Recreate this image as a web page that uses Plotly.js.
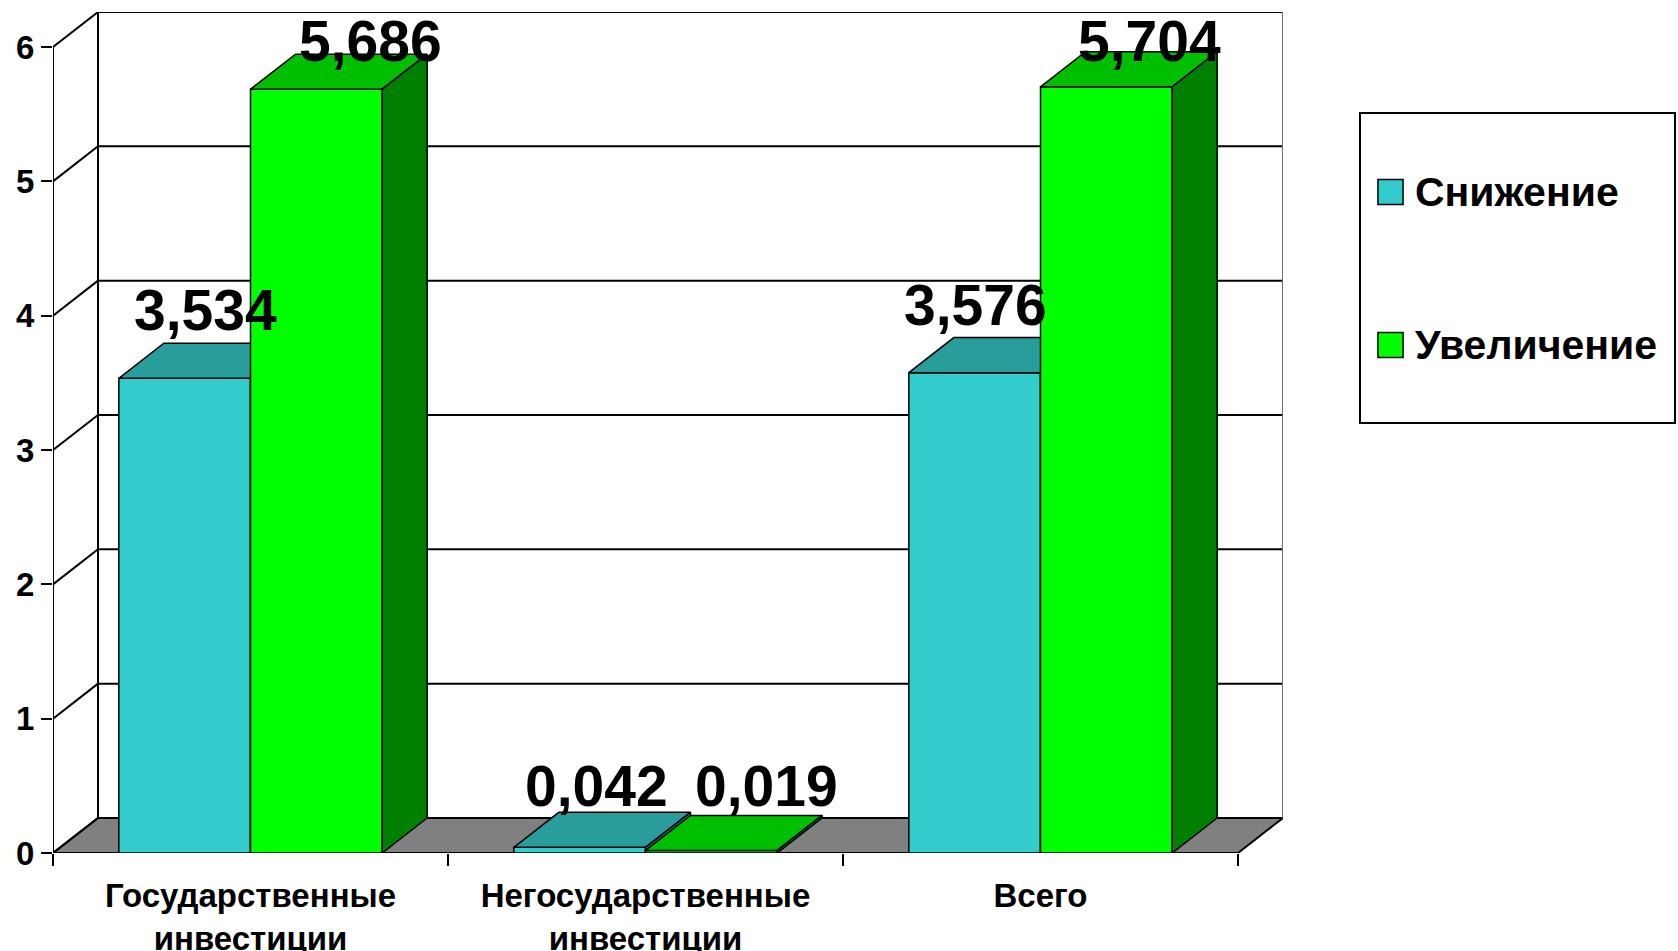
<!DOCTYPE html>
<html>
<head>
<meta charset="utf-8">
<script src="https://cdn.plot.ly/plotly-3.0.1.min.js"></script>
<style>
html, body { margin: 0; padding: 0; background: #ffffff; }
#chart { width: 1678px; height: 951px; }
</style>
</head>
<body>
<div id="chart"></div>
<script>
// ---- data ----
const categories = ['Государственные<br>инвестиции', 'Негосударственные<br>инвестиции', 'Всего'];
const seriesNames = ['Снижение', 'Увеличение'];
const decreaseValues = [3.534, 0.042, 3.576];
const increaseValues = [5.686, 0.019, 5.704];
const yTickValues = [0, 1, 2, 3, 4, 5, 6];

// ---- styles / geometry ----
const FONT = 'Liberation Sans, Arial, Helvetica, sans-serif';
const catPos = categories.map((_, i) => i);
const yMax = yTickValues[yTickValues.length - 1];
const depthX = 45 / 395;        // 3D depth in category units
const depthY = 35 / 134.2;      // 3D depth in value units
const barW = 1 / 3;
const offsets = [-barW, 0];
const faceColors = [
  { front: '#33CCCC', top: '#299C9C', side: '#1F7F7F' },
  { front: '#00FF00', top: '#00BF00', side: '#007F00' }
];
// per-label nudges (pixels), matching the reference placement
const labelShiftX = [[-2, -6, -22], [32, 33, 21]];
const labelShiftY = [[-1, -8, -1], [-21, -5, -23]];

const xRange = [-0.5, catPos.length - 0.5 + depthX];
const yRange = [0, yMax + depthY];

function topFace(values, off) {
  const xs = [], ys = [];
  values.forEach((v, i) => {
    const x0 = catPos[i] + off, x1 = x0 + barW;
    xs.push(x0, x1, x1 + depthX, x0 + depthX, x0, null);
    ys.push(v, v, v + depthY, v + depthY, v, null);
  });
  return { xs, ys };
}
function sideFace(values, off) {
  const xs = [], ys = [];
  values.forEach((v, i) => {
    const x1 = catPos[i] + off + barW;
    xs.push(x1, x1 + depthX, x1 + depthX, x1, x1, null);
    ys.push(0, depthY, v + depthY, v, 0, null);
  });
  return { xs, ys };
}

const allSeries = [decreaseValues, increaseValues];
const traces = [];
allSeries.forEach((vals, s) => {
  const xa = s === 0 ? 'x' : 'x2';
  const ya = s === 0 ? 'y' : 'y2';
  traces.push({
    type: 'bar', name: seriesNames[s], x: catPos, y: vals,
    width: barW, offset: offsets[s],
    marker: { color: faceColors[s].front, line: { color: '#000000', width: 1.5 } },
    xaxis: xa, yaxis: ya, hoverinfo: 'skip', showlegend: false
  });
  const t = topFace(vals, offsets[s]);
  traces.push({
    type: 'scatter', mode: 'lines', x: t.xs, y: t.ys, fill: 'toself',
    fillcolor: faceColors[s].top, line: { color: '#000000', width: 1.5 },
    xaxis: xa, yaxis: ya, hoverinfo: 'skip', showlegend: false
  });
  const sd = sideFace(vals, offsets[s]);
  traces.push({
    type: 'scatter', mode: 'lines', x: sd.xs, y: sd.ys, fill: 'toself',
    fillcolor: faceColors[s].side, line: { color: '#000000', width: 1.5 },
    xaxis: xa, yaxis: ya, hoverinfo: 'skip', showlegend: false
  });
});

// ---- walls, floor, grid (shapes in data coords) ----
const shapes = [];
const L = -0.5, R = catPos.length - 0.5;
shapes.push({
  type: 'path', xref: 'x', yref: 'y', layer: 'below',
  path: `M ${L},0 L ${R},0 L ${R + depthX},${depthY} L ${L + depthX},${depthY} Z`,
  fillcolor: '#808080', line: { color: '#000000', width: 2 }
});
yTickValues.forEach(v => {
  if (v > 0) {
    shapes.push({ type: 'line', xref: 'x', yref: 'y', layer: 'below',
      x0: L + depthX, x1: R + depthX, y0: v + depthY, y1: v + depthY,
      line: { color: '#000000', width: 2 } });
  }
  shapes.push({ type: 'line', xref: 'x', yref: 'y', layer: 'below',
    x0: L, x1: L + depthX, y0: v, y1: v + depthY,
    line: { color: '#000000', width: 2 } });
});
shapes.push({ type: 'line', xref: 'x', yref: 'y', layer: 'below',
  x0: L + depthX, x1: L + depthX, y0: depthY, y1: yMax + depthY, line: { color: '#000000', width: 2 } });
shapes.push({ type: 'line', xref: 'x', yref: 'y', layer: 'below',
  x0: R + depthX, x1: R + depthX, y0: depthY, y1: yMax + depthY, line: { color: '#6e6e6e', width: 2 } });
shapes.push({ type: 'line', xref: 'x', yref: 'y', layer: 'below',
  x0: L, x1: L, y0: 0, y1: yMax, line: { color: '#000000', width: 2 } });

// ---- legend (drawn) ----
shapes.push({ type: 'rect', xref: 'paper', yref: 'paper', x0: 1.0626, x1: 1.3187, y0: 0.5113, y1: 0.8799,
  line: { color: '#000000', width: 2 }, fillcolor: 'rgba(0,0,0,0)' });
const legendY = [0.786, 0.604];
const annotations = [];
seriesNames.forEach((nm, s) => {
  shapes.push({ type: 'rect', xref: 'paper', yref: 'paper',
    x0: 1.0772, x1: 1.0976, y0: legendY[s] - 0.0148, y1: legendY[s] + 0.0148,
    fillcolor: faceColors[s].front, line: { color: '#000000', width: 1.5 } });
  annotations.push({ xref: 'paper', yref: 'paper', x: 1.1060, y: legendY[s],
    xanchor: 'left', yanchor: 'middle', showarrow: false, text: nm,
    font: { family: FONT, size: 41, color: '#000000', weight: 'bold' } });
});

// ---- data labels ----
allSeries.forEach((vals, s) => {
  vals.forEach((v, i) => {
    annotations.push({
      xref: 'x', yref: 'y',
      x: catPos[i] + offsets[s] + barW / 2 + depthX / 2, y: v + depthY,
      xanchor: 'center', yanchor: 'bottom', showarrow: false,
      xshift: labelShiftX[s][i], yshift: labelShiftY[s][i],
      text: v.toFixed(3).replace('.', ','),
      font: { family: FONT, size: 57, color: '#000000', weight: 'bold' }
    });
  });
});

const layout = {
  width: 1678, height: 951,
  margin: { l: 53, r: 395, t: 12, b: 98 },
  paper_bgcolor: '#ffffff', plot_bgcolor: '#ffffff',
  showlegend: false, barmode: 'overlay',
  xaxis: {
    type: 'linear', range: xRange, fixedrange: true,
    tickmode: 'array', tickvals: catPos, ticktext: categories,
    ticks: '', showgrid: false, zeroline: false, showline: false,
    tickfont: { family: FONT, size: 33, color: '#000000', weight: 'bold' },
    ticklabelstandoff: 20,
    minor: { tickmode: 'array', tickvals: catPos.map(c => c - 0.5).concat([R]),
      ticks: 'outside', ticklen: 12, tickwidth: 2, tickcolor: '#000000', showgrid: false }
  },
  yaxis: {
    type: 'linear', range: yRange, fixedrange: true,
    tickmode: 'array', tickvals: yTickValues, ticktext: yTickValues.map(String),
    ticks: 'outside', ticklen: 11, tickwidth: 2, tickcolor: '#000000',
    showgrid: false, zeroline: false, showline: false,
    tickfont: { family: FONT, size: 33, color: '#000000', weight: 'bold' }
  },
  xaxis2: { overlaying: 'x', range: xRange, visible: false, fixedrange: true },
  yaxis2: { overlaying: 'y', range: yRange, visible: false, fixedrange: true },
  shapes: shapes,
  annotations: annotations
};

Plotly.newPlot('chart', traces, layout, { displayModeBar: false, staticPlot: true });
</script>
</body>
</html>
